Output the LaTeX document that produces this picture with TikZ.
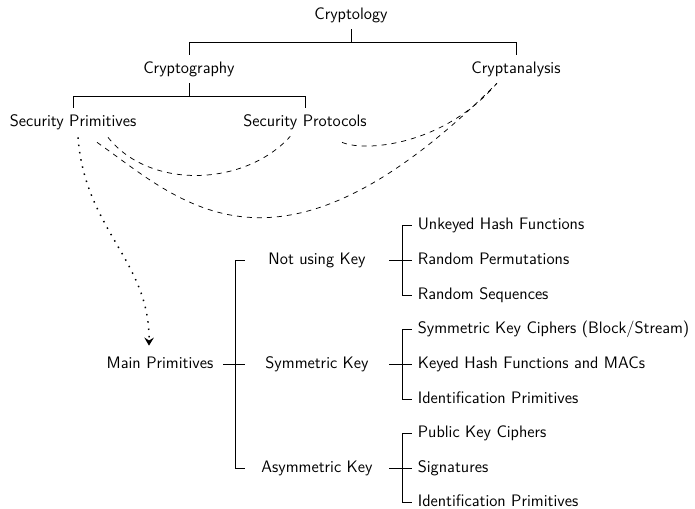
\documentclass[tikz,border=0pt]{standalone}
\usetikzlibrary{arrows.meta}
\begin{document}
\begin{tikzpicture}[x=0.68pt,y=-0.68pt,
  every node/.style={font=\sffamily\fontsize{11.3}{13.5}\selectfont, inner xsep=3.8pt, inner ysep=4.5pt, text height=7.9pt, text depth=2.2pt},
  treeline/.style={line width=0.5pt},
  link/.style={dash pattern=on 3.4pt off 3.4pt, line width=0.5pt},
  primarrow/.style={line width=1pt, dash pattern=on 1pt off 4pt, -{Stealth[length=5.5pt,width=6.5pt,inset=2pt]}},
  kid/.style={minimum width=97.9pt},
  leaf/.style={anchor=west}
]
\useasboundingbox (0,0) rectangle (695,509);
% upper tree
\node (cy) at (351,15) {Cryptology};
\node (cg) at (189,69) {Cryptography};
\node (ca) at (516,69) {Cryptanalysis};
\node (sp) at (73,122) {Security Primitives};
\node (sr) at (305,122) {Security Protocols};
\draw[treeline] (cy.south) -- ++(0,13) -| (cg.north);
\draw[treeline] (cy.south) ++(0,13) -| (ca.north);
\draw[treeline] (cg.south) -- ++(0,13) -| (sp.north);
\draw[treeline] (cg.south) ++(0,13) -| (sr.north);
% lower tree
\node (mp) [minimum width=85.7pt] at (160,364) {Main Primitives};
\node (k1) [kid] at (317,260) {Not using Key};
\node (k2) [kid] at (317,364) {Symmetric Key};
\node (k3) [kid] at (317,468) {Asymmetric Key};
\node (l11) [leaf] at (412,225) {Unkeyed Hash Functions};
\node (l12) [leaf] at (412,260) {Random Permutations};
\node (l13) [leaf] at (412,295) {Random Sequences};
\node (l21) [leaf] at (412,329) {Symmetric Key Ciphers (Block/Stream)};
\node (l22) [leaf] at (412,364) {Keyed Hash Functions and MACs};
\node (l23) [leaf] at (412,399) {Identification Primitives};
\node (l31) [leaf] at (412,433) {Public Key Ciphers};
\node (l32) [leaf] at (412,468) {Signatures};
\node (l33) [leaf] at (412,502) {Identification Primitives};
\draw[treeline] (mp.east) -- ++(12,0) |- (k1.west);
\draw[treeline] (mp.east) -- (k2.west);
\draw[treeline] (mp.east) ++(12,0) |- (k3.west);
\foreach \k/\a/\b/\c in {k1/l11/l12/l13, k2/l21/l22/l23, k3/l31/l32/l33}{
  \draw[treeline] (\k.east) -- ++(13,0) |- (\a.west);
  \draw[treeline] (\k.east) -- (\b.west);
  \draw[treeline] (\k.east) ++(13,0) |- (\c.west);
}
% links
\draw[link] ([shift={(35,1)}]sp.south) .. controls +(42,53) and +(-45,50) .. ([xshift=-10]sr.south);
\draw[link] ([shift={(24,6)}]sp.south) .. controls +(83,58) and +(-220,220) .. ([xshift=-13]ca.south);
\draw[link] ([shift={(37,6)}]sr.south) .. controls +(23,10) and +(-53,62) .. ([xshift=-13]ca.south);
\draw[primarrow] ([shift={(5,1)}]sp.south) .. controls +(7,93) and +(1,-85) .. ([shift={(-11,-4)}]mp.north);
\end{tikzpicture}
\end{document}
